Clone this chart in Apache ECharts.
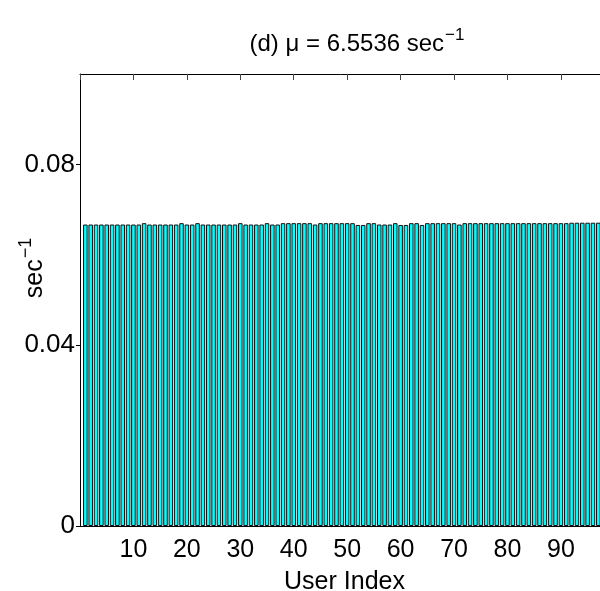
<!DOCTYPE html>
<html>
<head>
<meta charset="utf-8">
<title>mu 6.5536</title>
<script src="https://cdn.jsdelivr.net/npm/echarts@6/dist/echarts.min.js"></script>
<style>
  html, body { margin: 0; padding: 0; background: #fff; }
  #main { width: 600px; height: 591px; }
</style>
</head>
<body>
<div id="main"></div>
<script type="text/javascript">
// user index 1..98
var users = [];
for (var i = 1; i <= 98; i++) users.push(i);

// rate per user (sec^-1)
var rates = [
  0.0667, 0.0667, 0.0667, 0.0667, 0.0667, 0.0667, 0.0667, 0.0667, 0.0667, 0.0667,
  0.0667, 0.0670, 0.0667, 0.0667, 0.0667, 0.0667, 0.0667, 0.0667, 0.0670, 0.0667,
  0.0667, 0.0670, 0.0667, 0.0667, 0.0667, 0.0667, 0.0667, 0.0667, 0.0667, 0.0670,
  0.0667, 0.0667, 0.0667, 0.0667, 0.0670, 0.0667, 0.0667, 0.0670, 0.0670, 0.0670,
  0.0670, 0.0670, 0.0670, 0.0667, 0.0670, 0.0670, 0.0670, 0.0670, 0.0670, 0.0670,
  0.0670, 0.0666, 0.0666, 0.0670, 0.0670, 0.0667, 0.0667, 0.0667, 0.0670, 0.0666,
  0.0666, 0.0670, 0.0670, 0.0666, 0.0670, 0.0670, 0.0670, 0.0670, 0.0670, 0.0670,
  0.0667, 0.0670, 0.0670, 0.0670, 0.0670, 0.0670, 0.0670, 0.0670, 0.0670, 0.0670,
  0.0670, 0.0670, 0.0670, 0.0670, 0.0670, 0.0670, 0.0670, 0.0670, 0.0670, 0.0670,
  0.0670, 0.0671, 0.0671, 0.0671, 0.0671, 0.0671, 0.0671, 0.0671
];

var data = [];
for (var k = 0; k < users.length; k++) data.push([users[k], rates[k]]);

var font = 'Liberation Sans, Arial, Helvetica, sans-serif';
var myChart = echarts.init(document.getElementById('main'));

option = {
    animation: false,
    backgroundColor: '#fff',
    title: {
        text: '{a|(d) μ = 6.5536 sec}{s|−1}',
        left: 352,
        textAlign: 'center',
        top: 22,
        textStyle: {
            fontWeight: 'normal',
            rich: {
                a: { fontFamily: font, fontSize: 24, fontWeight: 'normal', color: '#000', verticalAlign: 'bottom' },
                s: { fontFamily: font, fontSize: 17, fontWeight: 'normal', color: '#000', verticalAlign: 'bottom', padding: [0, 0, 12, 1] }
            }
        }
    },
    grid: {
        left: 80,
        right: -9,
        top: 74,
        bottom: 65,
        containLabel: false,
        outerBoundsMode: 'none'
    },
    xAxis: [{
        type: 'value',
        min: 0,
        max: 99,
        interval: 10,
        position: 'bottom',
        name: 'User Index',
        nameLocation: 'middle',
        nameGap: 44,
        nameTextStyle: { fontFamily: font, fontSize: 25, color: '#000' },
        splitLine: { show: false },
        axisLine: { show: true, lineStyle: { color: '#000', width: 1 } },
        axisTick: { show: true, inside: true, length: 5, lineStyle: { color: '#000' } },
        axisLabel: {
            showMinLabel: false,
            showMaxLabel: false,
            margin: 12,
            fontFamily: font,
            fontSize: 25,
            color: '#000'
        }
    }, {
        type: 'value',
        min: 0,
        max: 99,
        interval: 10,
        position: 'top',
        splitLine: { show: false },
        axisLine: { show: true, lineStyle: { color: '#000', width: 1 } },
        axisTick: { show: true, inside: true, length: 6, lineStyle: { color: '#444' } },
        axisLabel: { show: false }
    }],
    yAxis: {
        type: 'value',
        min: 0,
        max: 0.1,
        interval: 0.04,
        name: '{a|sec}{s|−1}',
        nameLocation: 'middle',
        nameRotate: 90,
        nameGap: 32,
        nameMoveOverlap: false,
        nameTextStyle: {
            padding: [0, 0, 0, 64],
            rich: {
                a: { fontFamily: font, fontSize: 25, color: '#000', verticalAlign: 'bottom' },
                s: { fontFamily: font, fontSize: 18, color: '#000', verticalAlign: 'bottom', padding: [0, 0, 13, 1] }
            }
        },
        splitLine: { show: false },
        axisLine: { show: true, lineStyle: { color: '#000', width: 1 } },
        axisTick: { show: true, inside: false, length: 4, lineStyle: { color: '#000' } },
        axisLabel: {
            showMaxLabel: false,
            margin: 5,
            fontFamily: font,
            fontSize: 26,
            color: '#000',
            formatter: function (v) { return v === 0 ? '0' : v.toFixed(2); }
        }
    },
    series: [{
        name: 'rate',
        type: 'bar',
        data: data,
        barWidth: '85%',
        itemStyle: {
            color: '#00ffff',
            borderColor: '#111',
            borderWidth: 1
        }
    }]
};

myChart.setOption(option);
</script>
</body>
</html>
